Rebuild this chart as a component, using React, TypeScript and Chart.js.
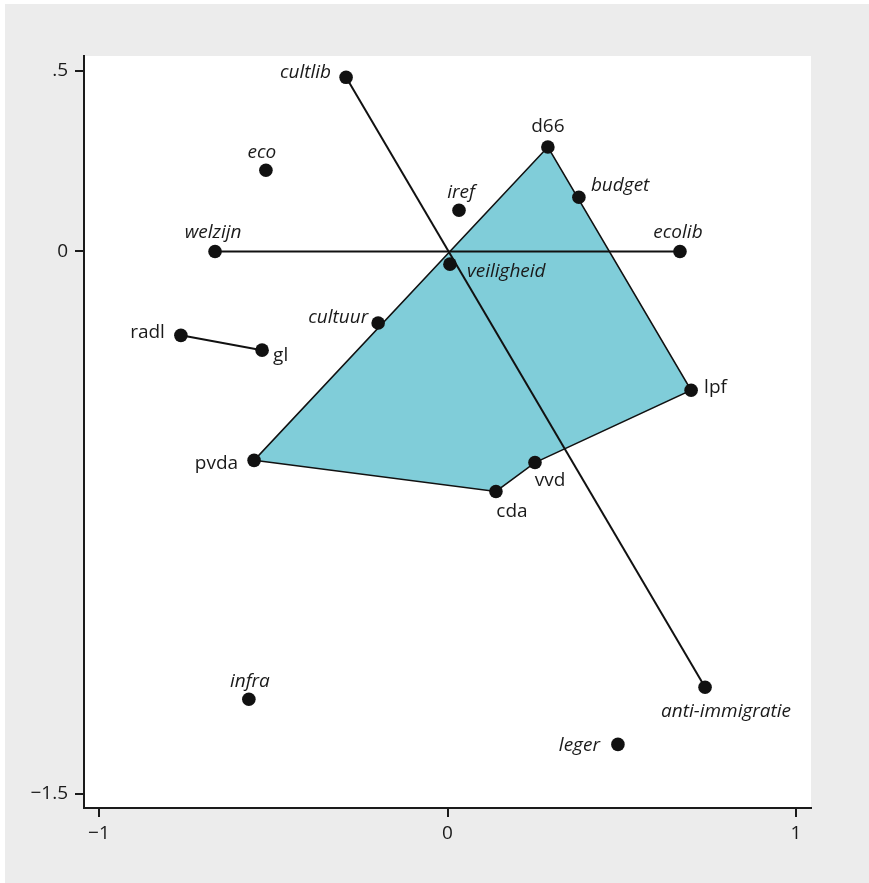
import React, { useEffect, useRef } from "react";
import { Chart, registerables } from "chart.js";

Chart.register(...registerables);

// ---- data ----
const names = [
  "cultlib", "anti-immigratie", "welzijn", "ecolib", "eco", "iref", "budget", "d66",
  "veiligheid", "cultuur", "radl", "gl", "lpf", "pvda", "vvd", "cda", "infra", "leger",
];
const xValues = [
  -0.291, 0.739, -0.667, 0.667, -0.521, 0.033, 0.377, 0.288,
  0.007, -0.199, -0.765, -0.532, 0.699, -0.555, 0.251, 0.139, -0.570, 0.489,
];
const yValues = [
  0.482, -1.206, 0.0, 0.0, 0.225, 0.114, 0.150, 0.289,
  -0.035, -0.198, -0.232, -0.273, -0.384, -0.578, -0.584, -0.664, -1.239, -1.364,
];
const italicNames = [
  "cultlib", "anti-immigratie", "welzijn", "ecolib", "eco", "iref", "budget",
  "veiligheid", "cultuur", "infra", "leger",
];
const hullMembers = ["pvda", "d66", "lpf", "vvd", "cda", "pvda"];
const segments: [string, string][] = [
  ["cultlib", "anti-immigratie"],
  ["welzijn", "ecolib"],
  ["radl", "gl"],
];
const xTickValues = [-1, 0, 1];
const yTickValues = [-1.5, 0, 0.5];

// label placement: [align, dx, dy] in pixels relative to the marker
const labelPlacement: Record<string, [CanvasTextAlign, number, number]> = {
  cultlib: ["right", -15, -5],
  "anti-immigratie": ["center", 21, 24],
  welzijn: ["center", -2, -19],
  ecolib: ["center", -2, -19],
  eco: ["center", -4, -18],
  iref: ["center", 2, -18],
  budget: ["left", 12, -12],
  d66: ["center", 0, -20],
  veiligheid: ["left", 17, 7],
  cultuur: ["right", -10, -5],
  radl: ["right", -16, -3],
  gl: ["left", 11, 5],
  lpf: ["left", 13, -3],
  pvda: ["right", -16, 3],
  vvd: ["center", 15, 18],
  cda: ["center", 16, 20],
  infra: ["center", 1, -18],
  leger: ["right", -18, 1],
};

const FONT = "'Open Sans', 'Noto Sans', sans-serif";
const INK = "#1a1a1a";

const pt = (n: string) => {
  const i = names.indexOf(n);
  return { x: xValues[i], y: yValues[i] };
};

const fmtTick = (v: number) => {
  let s = String(v);
  if (s.startsWith("0.")) s = s.slice(1);
  if (s.startsWith("-0.")) s = "-" + s.slice(2);
  return s.replace("-", "\u2212");
};

const backgroundPlugin = {
  id: "bg",
  beforeDraw(chart: any) {
    const { ctx, width, height, chartArea } = chart;
    ctx.save();
    ctx.fillStyle = "#ffffff";
    ctx.fillRect(0, 0, width, height);
    ctx.fillStyle = "#ececec";
    ctx.fillRect(5, 4, width - 5, height - 4);
    ctx.fillStyle = "#ffffff";
    ctx.fillRect(chartArea.left, chartArea.top, chartArea.right - chartArea.left, chartArea.bottom - chartArea.top);
    ctx.restore();
  },
};

const labelPlugin = {
  id: "pointLabels",
  afterDatasetsDraw(chart: any) {
    const { ctx, scales } = chart;
    ctx.save();
    ctx.fillStyle = INK;
    ctx.textBaseline = "middle";
    names.forEach((n, i) => {
      const px = scales.x.getPixelForValue(xValues[i]);
      const py = scales.y.getPixelForValue(yValues[i]);
      const [align, dx, dy] = labelPlacement[n] || ["left", 12, 0];
      const italic = italicNames.includes(n);
      ctx.font = `${italic ? "italic " : ""}19px ${FONT}`;
      ctx.textAlign = align;
      ctx.fillText(n, px + dx, py + dy);
    });
    ctx.restore();
  },
};

export default function App() {
  const ref = useRef<HTMLCanvasElement | null>(null);
  useEffect(() => {
    document.body.style.margin = "0";
    const canvas = ref.current!;
    const datasets: any[] = [];
    datasets.push({
      label: "points",
      data: names.map((n) => pt(n)),
      showLine: false,
      pointRadius: 6.8,
      pointHoverRadius: 6.8,
      pointBackgroundColor: "#111111",
      pointBorderColor: "#111111",
      pointBorderWidth: 0,
      order: 0,
    });
    segments.forEach(([a, b], k) => {
      datasets.push({
        label: "seg" + k,
        data: [pt(a), pt(b)],
        showLine: true,
        borderColor: "#111111",
        borderWidth: 2,
        pointRadius: 0,
        fill: false,
        order: 1,
      });
    });
    datasets.push({
      label: "hull",
      data: hullMembers.map((n) => pt(n)),
      showLine: true,
      borderColor: "#111111",
      borderWidth: 1.5,
      backgroundColor: "#80cdd9",
      fill: "shape",
      pointRadius: 0,
      tension: 0,
      order: 2,
    });

    const chart = new Chart(canvas, {
      type: "scatter",
      data: { datasets },
      options: {
        animation: false,
        responsive: false,
        maintainAspectRatio: false,
        layout: { padding: { left: 0, top: 56, right: 58, bottom: 0 } },
        plugins: { legend: { display: false }, tooltip: { enabled: false } },
        scales: {
          x: {
            type: "linear",
            min: -1.043,
            max: 1.043,
            afterFit(scale: any) {
              scale.height = 75;
            },
            afterBuildTicks(scale: any) {
              scale.ticks = xTickValues.map((v) => ({ value: v }));
            },
            ticks: {
              color: INK,
              font: { family: FONT, size: 19 },
              padding: 5,
              maxRotation: 0,
              callback: (v: any) => fmtTick(Number(v)),
            },
            grid: { drawOnChartArea: false, drawTicks: true, tickLength: 9, color: INK, lineWidth: 2 },
            border: { display: true, color: INK, width: 2 },
          },
          y: {
            type: "linear",
            min: -1.54,
            max: 0.541,
            afterFit(scale: any) {
              scale.width = 84;
            },
            afterBuildTicks(scale: any) {
              scale.ticks = yTickValues.map((v) => ({ value: v }));
            },
            ticks: {
              color: INK,
              font: { family: FONT, size: 19 },
              padding: 7,
              callback: (v: any) => fmtTick(Number(v)),
            },
            grid: { drawOnChartArea: false, drawTicks: true, tickLength: 9, color: INK, lineWidth: 2 },
            border: { display: true, color: INK, width: 2 },
          },
        },
      },
      plugins: [backgroundPlugin, labelPlugin],
    });
    return () => chart.destroy();
  }, []);
  return (
    <div style={{ width: 869, height: 883 }}>
      <canvas ref={ref} width={869} height={883} style={{ display: "block" }} />
    </div>
  );
}
